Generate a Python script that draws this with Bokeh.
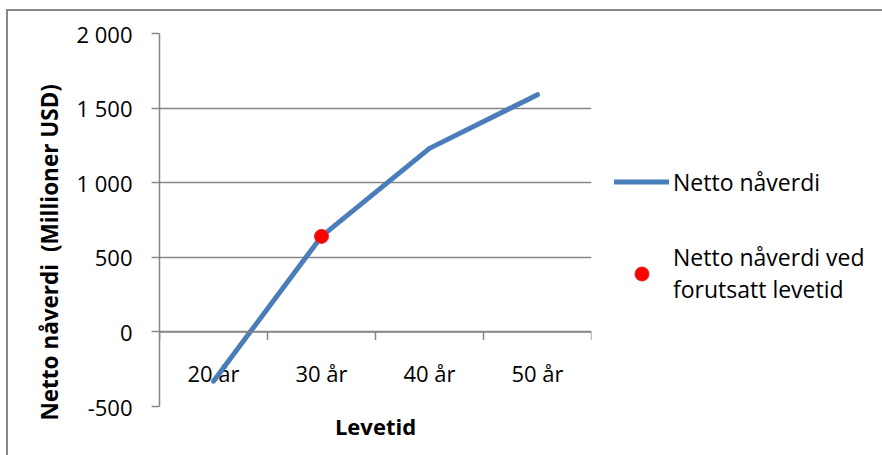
from bokeh.plotting import figure
from bokeh.models import (FactorRange, Range1d, FixedTicker, Legend, LegendItem,
                          ColumnDataSource, Span, Title)
from bokeh.transform import dodge
from bokeh.core.properties import value
from bokeh.embed import file_html
from bokeh.resources import INLINE

# ---- data ----
categories = ["20 år", "30 år", "40 år", "50 år"]
npv = [-330, 640, 1230, 1590]
marker_cat = ["30 år"]
marker_val = [640]
y_ticks = [-500, 0, 500, 1000, 1500, 2000]
y_tick_labels = ["-500", "0", "500", "1 000", "1 500", "2 000"]

FONT = "Open Sans"
GRID = "#868686"
BLUE = "#4a7ebb"

p = figure(frame_width=432, frame_height=373,
           x_range=FactorRange(factors=categories, range_padding=0),
           y_range=Range1d(-500, 2000),
           x_axis_location=None,
           output_backend="svg", toolbar_location=None,
           min_border_left=151, min_border_right=291,
           min_border_top=22, min_border_bottom=49)
p.margin = (9, 0, 0, 6)
p.styles = {"border-left": "2px solid #878787", "border-top": "2px solid #878787"}
p.outline_line_color = None
p.background_fill_color = "white"
p.border_fill_color = "white"

# grid
p.xgrid.visible = False
p.ygrid.ticker = FixedTicker(ticks=y_ticks)
p.ygrid.grid_line_color = GRID
p.ygrid.grid_line_width = 1.5

# y axis
ya = p.yaxis[0]
ya.ticker = FixedTicker(ticks=y_ticks)
ya.major_label_overrides = {t: l for t, l in zip(y_ticks, y_tick_labels)}
ya.minor_tick_line_color = None
ya.major_tick_in = 0
ya.major_tick_out = 8
ya.major_tick_line_color = GRID
ya.major_tick_line_width = 1.5
ya.axis_line_color = GRID
ya.axis_line_width = 1.5
ya.major_label_text_font = FONT
ya.major_label_text_font_size = "22px"
ya.major_label_text_color = "black"
ya.major_label_standoff = 19

# y axis title (slightly below centre, as in the reference)
p.add_layout(Title(text="Netto nåverdi\u00a0\u00a0(Millioner USD)", align="left",
                   text_font=FONT, text_font_size="22.5px", text_font_style="bold",
                   text_color="black", standoff=17, offset=-14), "left")

# x axis title
p.add_layout(Title(text="Levetid", align="center", text_font=FONT,
                   text_font_size="22px", text_font_style="bold",
                   text_color="black", standoff=5, offset=0), "below")

# category axis at y = 0
p.add_layout(Span(location=0, dimension="width", line_color=GRID, line_width=1.5))
tick_src = ColumnDataSource(dict(cat=categories))
p.segment(x0=dodge("cat", -0.5, range=p.x_range), x1=dodge("cat", -0.5, range=p.x_range),
          y0=0, y1=-55, source=tick_src, line_color=GRID, line_width=1.5)
end_src = ColumnDataSource(dict(cat=categories[-1:]))
p.segment(x0=dodge("cat", 0.5, range=p.x_range), x1=dodge("cat", 0.5, range=p.x_range),
          y0=0, y1=-55, source=end_src, line_color=GRID, line_width=1.5)
p.text(x="cat", y=0, text="cat", source=tick_src, y_offset=41,
       text_align="center", text_baseline="middle",
       text_font=value(FONT), text_font_size="22px", text_color="black")

# series
src = ColumnDataSource(dict(cat=categories, v=npv))
line_r = p.line(x="cat", y="v", source=src, line_color=BLUE, line_width=5,
                line_cap="round", line_join="round")
msrc = ColumnDataSource(dict(cat=marker_cat, v=marker_val))
dot_r = p.scatter(x="cat", y="v", source=msrc, size=14, fill_color="#ff0000",
                  line_color="#d42a2a", line_width=1)

legend = Legend(items=[
    LegendItem(label="Netto nåverdi", renderers=[line_r]),
    LegendItem(label="Netto nåverdi ved\nforutsatt levetid", renderers=[dot_r]),
], location=(23, 101))
legend.padding = 0
legend.margin = 0
legend.border_line_color = None
legend.background_fill_alpha = 0
legend.glyph_width = 55
legend.glyph_height = 35
legend.label_standoff = 4
legend.spacing = 42
legend.label_text_font = FONT
legend.label_text_font_size = "23px"
legend.label_text_line_height = 1.48
legend.label_text_color = "black"
p.add_layout(legend, "right")

open("out.html", "w").write(file_html(p, INLINE))
